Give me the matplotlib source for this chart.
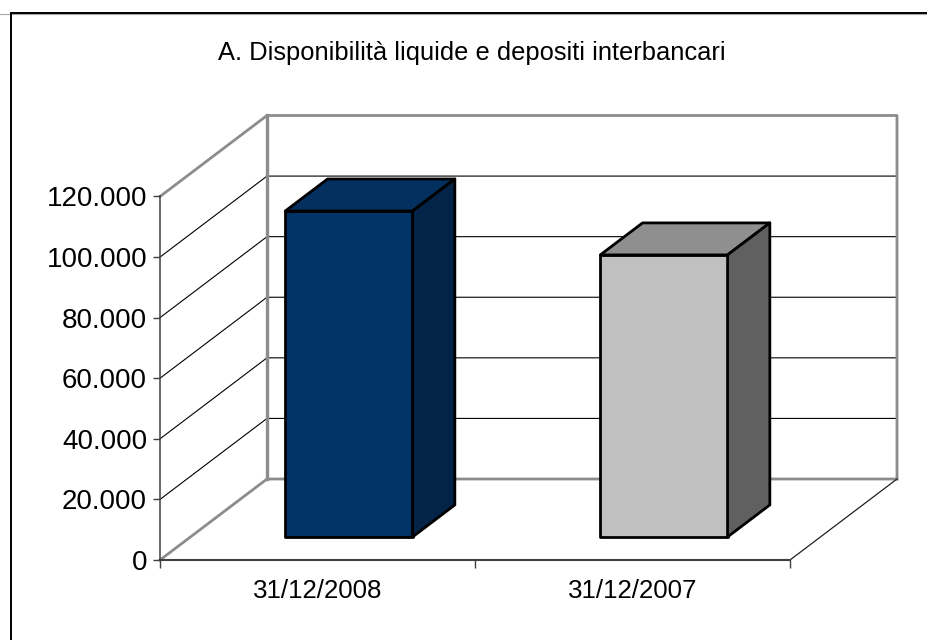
import matplotlib
matplotlib.use('Agg')
import matplotlib.pyplot as plt
from matplotlib.lines import Line2D
from matplotlib.patches import Polygon

title = 'A. Disponibilità liquide e depositi interbancari'
categories = ['31/12/2008', '31/12/2007']
values = [107600, 93100]
front_colors = ['#003366', '#c0c0c0']
top_colors = ['#04305f', '#8f8f8f']
side_colors = ['#032347', '#606060']
yticks = [0, 20000, 40000, 60000, 80000, 100000, 120000]
ytick_labels = ['0', '20.000', '40.000', '60.000', '80.000', '100.000', '120.000']

W, H = 927, 640
plt.rcParams['font.family'] = ['Liberation Sans', 'DejaVu Sans']

fig = plt.figure(figsize=(W / 100, H / 100), dpi=100)

# only top and left of the outer frame are in the picture
fig.add_artist(Line2D([0, 1], [1 - 14.3 / H] * 2, transform=fig.transFigure, color='#a8a8a8', lw=0.8))
fig.add_artist(Line2D([11 / W, 11 / W, 1], [0, 1 - 13 / H, 1 - 13 / H], transform=fig.transFigure,
                      color='black', lw=1.4, solid_joinstyle='miter'))
fig.text(472 / W, 1 - 53 / H, title, ha='center', va='center', fontsize=18.4)

# axes = front plane of the fake 3d box
ax = fig.add_axes([160 / W, 1 - 560 / H, 630 / W, 363.5 / H])
ax.set_xlim(0, 2)
ax.set_ylim(0, 120000)
ax.patch.set_visible(False)
for s in ['top', 'right']:
    ax.spines[s].set_visible(False)
ax.spines['left'].set_color('#404040')
ax.spines['left'].set_linewidth(1.1)
ax.spines['bottom'].set_color('#404040')
ax.spines['bottom'].set_linewidth(1.5)

# depth 1 = back wall
DX = 107 / 315
DY = 81 / (363.5 / 120000)


def proj(x, y, d):
    return (x + d * DX, y + d * DY)


# walls and gridlines
for v in yticks[1:-1]:
    ax.plot(*zip(proj(0, v, 0), proj(0, v, 1), proj(2, v, 1)), color='black', lw=0.8,
            clip_on=False, zorder=1, solid_joinstyle='miter')
gray = '#8c8c8c'
ax.plot(*zip(proj(0, 120000, 0), proj(0, 120000, 1), proj(2, 120000, 1), proj(2, 0, 1)),
        color=gray, lw=2, clip_on=False, zorder=1.5)
ax.plot(*zip(proj(0, 120000, 1), proj(0, 0, 1)), color=gray, lw=2.4, clip_on=False, zorder=1.5)
ax.plot(*zip(proj(0, 0, 0), proj(0, 0, 1), proj(2, 0, 1)), color=gray, lw=2, clip_on=False, zorder=1.5)
ax.plot(*zip(proj(2, 0, 0), proj(2, 0, 1)), color='#202020', lw=0.9, clip_on=False, zorder=1.5)

# bars
BAR_W = 0.404
D0, D1 = 0.285, 0.68
for i, v in enumerate(values):
    x0 = i + 0.5 - 0.199
    x1 = x0 + BAR_W
    faces = [
        ([proj(x0, 0, D0), proj(x1, 0, D0), proj(x1, v, D0), proj(x0, v, D0)], front_colors[i]),
        ([proj(x0, v, D0), proj(x1, v, D0), proj(x1, v, D1), proj(x0, v, D1)], top_colors[i]),
        ([proj(x1, 0, D0), proj(x1, 0, D1), proj(x1, v, D1), proj(x1, v, D0)], side_colors[i]),
    ]
    for pts, c in faces:
        ax.add_patch(Polygon(pts, closed=True, fc=c, ec='black', lw=2, joinstyle='round',
                             clip_on=False, zorder=3))

ax.set_yticks(yticks)
ax.set_yticklabels(ytick_labels)
ax.set_xticks([0, 1, 2])
ax.set_xticklabels([])
ax.set_xticks([0.5, 1.5], labels=categories, minor=True)
ax.tick_params(axis='y', length=5, width=1, color='#404040', labelsize=20, pad=4.3)
ax.tick_params(axis='x', which='major', length=5.8, width=1, color='#404040')
ax.tick_params(axis='x', which='minor', length=0, labelsize=18.6, pad=14)

fig.savefig('out.png', dpi=100)
